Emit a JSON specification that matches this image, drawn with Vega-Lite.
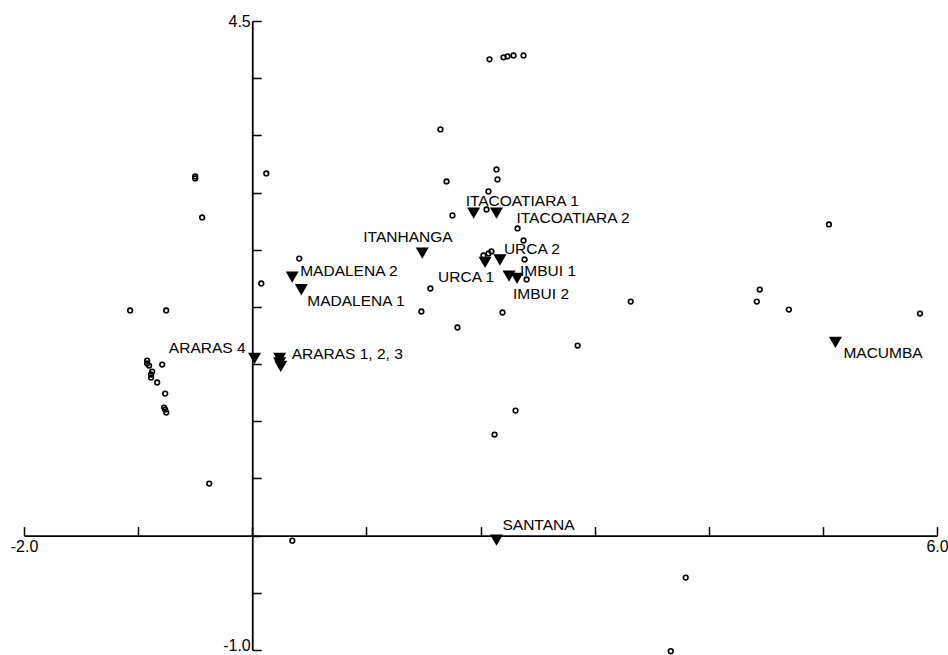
{
  "$schema": "https://vega.github.io/schema/vega-lite/v6.json",
  "width": 913,
  "height": 629,
  "autosize": {"type": "none"},
  "padding": {"left": 24, "top": 21, "right": 11, "bottom": 5},
  "background": "white",
  "config": {"view": {"stroke": null}, "text": {"font": "Liberation Sans", "fontSize": 15.5, "color": "black", "baseline": "middle", "align": "left"}},
  "datasets": {
    "species": [
      {"x": 2.079, "y": 4.165}, {"x": 2.202, "y": 4.182}, {"x": 2.237, "y": 4.191}, {"x": 2.289, "y": 4.199}, {"x": 2.377, "y": 4.199},
      {"x": 1.649, "y": 3.552}, {"x": 2.140, "y": 3.202}, {"x": 2.149, "y": 3.115}, {"x": 1.702, "y": 3.097}, {"x": 2.070, "y": 3.010},
      {"x": 2.053, "y": 2.852}, {"x": 1.754, "y": 2.800}, {"x": 2.325, "y": 2.686}, {"x": 2.377, "y": 2.581}, {"x": 2.026, "y": 2.450},
      {"x": 2.070, "y": 2.467}, {"x": 2.096, "y": 2.485}, {"x": 2.386, "y": 2.415}, {"x": 2.404, "y": 2.240}, {"x": 1.561, "y": 2.161},
      {"x": 1.482, "y": 1.960}, {"x": 2.193, "y": 1.951}, {"x": 1.798, "y": 1.820}, {"x": 3.316, "y": 2.047}, {"x": 2.851, "y": 1.662},
      {"x": 2.307, "y": 1.094}, {"x": 2.123, "y": 0.884}, {"x": 3.798, "y": -0.367}, {"x": 3.667, "y": -1.01},
      {"x": 5.053, "y": 2.721}, {"x": 4.447, "y": 2.152}, {"x": 4.421, "y": 2.047}, {"x": 4.702, "y": 1.977}, {"x": 5.851, "y": 1.942},
      {"x": -0.500, "y": 3.141}, {"x": -0.500, "y": 3.123}, {"x": 0.123, "y": 3.167}, {"x": -0.439, "y": 2.782}, {"x": 0.412, "y": 2.423},
      {"x": 0.079, "y": 2.205}, {"x": -1.070, "y": 1.969}, {"x": -0.754, "y": 1.969},
      {"x": -0.921, "y": 1.531}, {"x": -0.921, "y": 1.505}, {"x": -0.904, "y": 1.487}, {"x": -0.877, "y": 1.435}, {"x": -0.886, "y": 1.409},
      {"x": -0.886, "y": 1.382}, {"x": -0.833, "y": 1.339}, {"x": -0.789, "y": 1.496}, {"x": -0.763, "y": 1.242}, {"x": -0.772, "y": 1.120},
      {"x": -0.763, "y": 1.102}, {"x": -0.754, "y": 1.076}, {"x": -0.377, "y": 0.455}, {"x": 0.351, "y": -0.044}
    ],
    "sites": [
      {"site": "ITACOATIARA 1", "label": "ITACOATIARA 1", "x": 1.94, "y": 2.82},
      {"site": "ITACOATIARA 2", "label": "ITACOATIARA 2", "x": 2.14, "y": 2.82},
      {"site": "ITANHANGA", "label": "ITANHANGA", "x": 1.49, "y": 2.47},
      {"site": "URCA 2", "label": "URCA 2", "x": 2.17, "y": 2.41},
      {"site": "URCA 1", "label": "URCA 1", "x": 2.04, "y": 2.39},
      {"site": "IMBUI 1", "label": "IMBUI 1", "x": 2.25, "y": 2.27},
      {"site": "IMBUI 2", "label": "IMBUI 2", "x": 2.32, "y": 2.25},
      {"site": "MADALENA 2", "label": "MADALENA 2", "x": 0.35, "y": 2.26},
      {"site": "MADALENA 1", "label": "MADALENA 1", "x": 0.43, "y": 2.15},
      {"site": "ARARAS 1", "label": "ARARAS 1, 2, 3", "x": 0.24, "y": 1.55},
      {"site": "ARARAS 2", "label": "", "x": 0.24, "y": 1.51},
      {"site": "ARARAS 3", "label": "", "x": 0.25, "y": 1.48},
      {"site": "ARARAS 4", "label": "ARARAS 4", "x": 0.02, "y": 1.55},
      {"site": "MACUMBA", "label": "MACUMBA", "x": 5.11, "y": 1.69},
      {"site": "SANTANA", "label": "SANTANA", "x": 2.14, "y": -0.04}
    ]
  },
  "encoding": {
    "x": {
      "field": "x", "type": "quantitative",
      "scale": {"domain": [-2, 6], "nice": false, "zero": false},
      "axis": {
        "orient": "bottom", "offset": -114.4, "title": null, "grid": false,
        "values": [-2, -1, 0, 1, 2, 3, 4, 5, 6],
        "tickSize": -9, "tickColor": "black", "tickWidth": 1.5,
        "domainColor": "black", "domainWidth": 1.8,
        "labelExpr": "datum.value == -2 ? '-2.0' : (datum.value == 6 ? '6.0' : '')",
        "labelFont": "Liberation Sans", "labelFontSize": 16, "labelColor": "black",
        "labelPadding": 12, "labelFlush": false, "labelOverlap": false
      }
    },
    "y": {
      "field": "y", "type": "quantitative",
      "scale": {"domain": [-1, 4.5], "nice": false, "zero": false},
      "axis": {
        "orient": "left", "offset": -228.25, "title": null, "grid": false,
        "values": [-1, -0.5, 0, 0.5, 1, 1.5, 2, 2.5, 3, 3.5, 4, 4.5],
        "tickSize": -9, "tickColor": "black", "tickWidth": 1.5,
        "domainColor": "black", "domainWidth": 1.8,
        "labelExpr": "datum.value == -1 ? '-1.0' : (datum.value == 4.5 ? '4.5' : '')",
        "labelFont": "Liberation Sans", "labelFontSize": 16, "labelColor": "black",
        "labelPadding": 11, "labelFlush": false, "labelOverlap": false,
        "labelBaseline": {"condition": {"test": "datum.value == -1", "value": "alphabetic"}, "value": "middle"}
      }
    }
  },
  "layer": [
    {"data": {"name": "species"}, "mark": {"type": "point", "shape": "circle", "filled": false, "stroke": "black", "strokeWidth": 1.6, "size": 22, "opacity": 1}},
    {"data": {"name": "sites"}, "mark": {"type": "point", "shape": "triangle-down", "filled": true, "color": "black", "size": 170, "opacity": 1}},
    {"data": {"name": "sites"}, "transform": [{"filter": {"field": "site", "equal": "ITACOATIARA 1"}}], "mark": {"type": "text", "dx": -8, "dy": -12}, "encoding": {"text": {"field": "label"}}},
    {"data": {"name": "sites"}, "transform": [{"filter": {"field": "site", "equal": "ITACOATIARA 2"}}], "mark": {"type": "text", "dx": 20, "dy": 5}, "encoding": {"text": {"field": "label"}}},
    {"data": {"name": "sites"}, "transform": [{"filter": {"field": "site", "equal": "ITANHANGA"}}], "mark": {"type": "text", "dx": -59, "dy": -16}, "encoding": {"text": {"field": "label"}}},
    {"data": {"name": "sites"}, "transform": [{"filter": {"field": "site", "equal": "URCA 2"}}], "mark": {"type": "text", "dx": 4, "dy": -11}, "encoding": {"text": {"field": "label"}}},
    {"data": {"name": "sites"}, "transform": [{"filter": {"field": "site", "equal": "URCA 1"}}], "mark": {"type": "text", "align": "right", "dx": 9, "dy": 15}, "encoding": {"text": {"field": "label"}}},
    {"data": {"name": "sites"}, "transform": [{"filter": {"field": "site", "equal": "IMBUI 1"}}], "mark": {"type": "text", "dx": 11, "dy": -5}, "encoding": {"text": {"field": "label"}}},
    {"data": {"name": "sites"}, "transform": [{"filter": {"field": "site", "equal": "IMBUI 2"}}], "mark": {"type": "text", "dx": -4, "dy": 16}, "encoding": {"text": {"field": "label"}}},
    {"data": {"name": "sites"}, "transform": [{"filter": {"field": "site", "equal": "MADALENA 2"}}], "mark": {"type": "text", "dx": 8, "dy": -6}, "encoding": {"text": {"field": "label"}}},
    {"data": {"name": "sites"}, "transform": [{"filter": {"field": "site", "equal": "MADALENA 1"}}], "mark": {"type": "text", "dx": 6, "dy": 11}, "encoding": {"text": {"field": "label"}}},
    {"data": {"name": "sites"}, "transform": [{"filter": {"field": "site", "equal": "ARARAS 1"}}], "mark": {"type": "text", "dx": 12, "dy": -4}, "encoding": {"text": {"field": "label"}}},
    {"data": {"name": "sites"}, "transform": [{"filter": {"field": "site", "equal": "ARARAS 4"}}], "mark": {"type": "text", "align": "right", "dx": -9, "dy": -10}, "encoding": {"text": {"field": "label"}}},
    {"data": {"name": "sites"}, "transform": [{"filter": {"field": "site", "equal": "MACUMBA"}}], "mark": {"type": "text", "dx": 8, "dy": 11}, "encoding": {"text": {"field": "label"}}},
    {"data": {"name": "sites"}, "transform": [{"filter": {"field": "site", "equal": "SANTANA"}}], "mark": {"type": "text", "dx": 6, "dy": -15}, "encoding": {"text": {"field": "label"}}}
  ]
}
